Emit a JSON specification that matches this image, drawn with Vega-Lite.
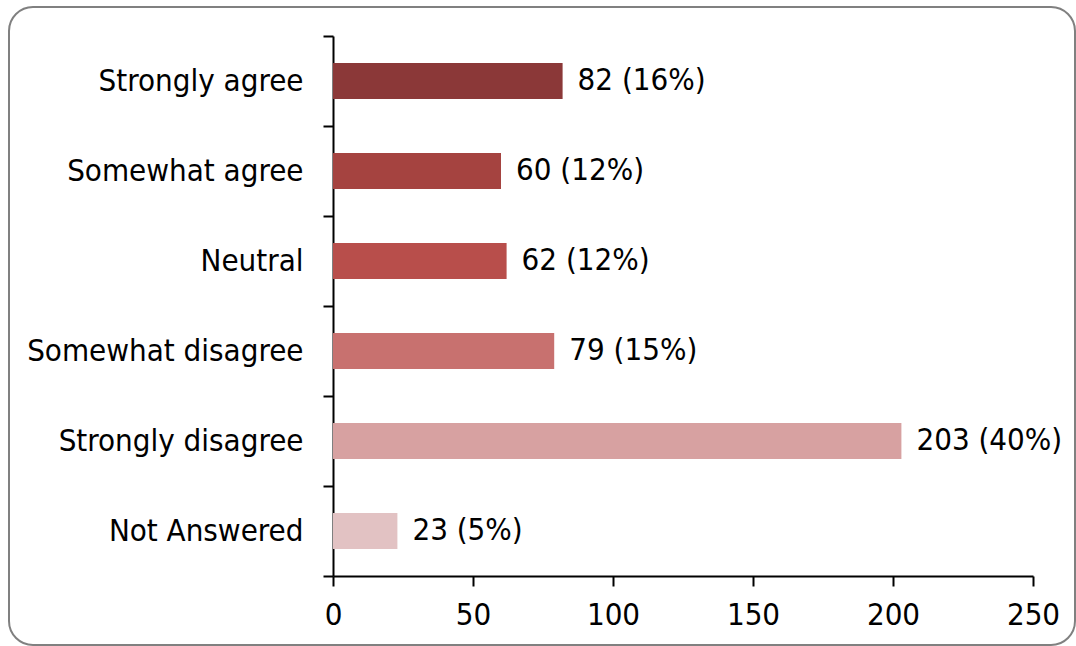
{
  "$schema": "https://vega.github.io/schema/vega-lite/v6.json",
  "autosize": {"type": "none"},
  "padding": {"left": 9, "top": 7, "right": 1, "bottom": 1},
  "width": 1066,
  "height": 638,
  "background": "white",
  "config": {
    "view": {"stroke": "#808080", "strokeWidth": 2, "cornerRadius": 24, "fill": "white"},
    "font": "DejaVu Sans Condensed"
  },
  "data": {
    "values": [
      {"response": "Strongly agree", "count": 82, "label": "82 (16%)", "color": "#8B3838"},
      {"response": "Somewhat agree", "count": 60, "label": "60 (12%)", "color": "#A54340"},
      {"response": "Neutral", "count": 62, "label": "62 (12%)", "color": "#B84E4B"},
      {"response": "Somewhat disagree", "count": 79, "label": "79 (15%)", "color": "#C8716F"},
      {"response": "Strongly disagree", "count": 203, "label": "203 (40%)", "color": "#D7A1A1"},
      {"response": "Not Answered", "count": 23, "label": "23 (5%)", "color": "#E2C2C3"}
    ]
  },
  "encoding": {
    "y": {
      "field": "response",
      "type": "nominal",
      "sort": null,
      "scale": {"range": [29, 569], "paddingInner": 0, "paddingOuter": 0},
      "axis": {
        "title": null,
        "offset": -324,
        "domainColor": "black",
        "domainWidth": 2,
        "tickColor": "black",
        "tickWidth": 2,
        "tickSize": 10,
        "tickBand": "extent",
        "labelFont": "DejaVu Sans Condensed",
        "labelFontSize": 31,
        "labelColor": "black",
        "labelPadding": 20,
        "labelLimit": 0,
        "grid": false
      }
    },
    "x": {
      "field": "count",
      "type": "quantitative",
      "scale": {"domain": [0, 250], "range": [324, 1024], "nice": false},
      "axis": {
        "title": null,
        "offset": -69,
        "values": [0, 50, 100, 150, 200, 250],
        "domainColor": "black",
        "domainWidth": 2,
        "tickColor": "black",
        "tickWidth": 2,
        "tickSize": 10,
        "labelFont": "DejaVu Sans Condensed",
        "labelFontSize": 31,
        "labelColor": "black",
        "labelPadding": 14,
        "labelFlush": false,
        "grid": false
      }
    }
  },
  "layer": [
    {
      "mark": {"type": "bar", "height": {"band": 0.4}},
      "encoding": {
        "color": {"field": "color", "type": "nominal", "scale": null, "legend": null}
      }
    },
    {
      "mark": {"type": "text", "align": "left", "baseline": "middle", "dx": 15, "fontSize": 31, "font": "DejaVu Sans Condensed", "color": "black"},
      "encoding": {
        "text": {"field": "label", "type": "nominal"}
      }
    }
  ]
}
